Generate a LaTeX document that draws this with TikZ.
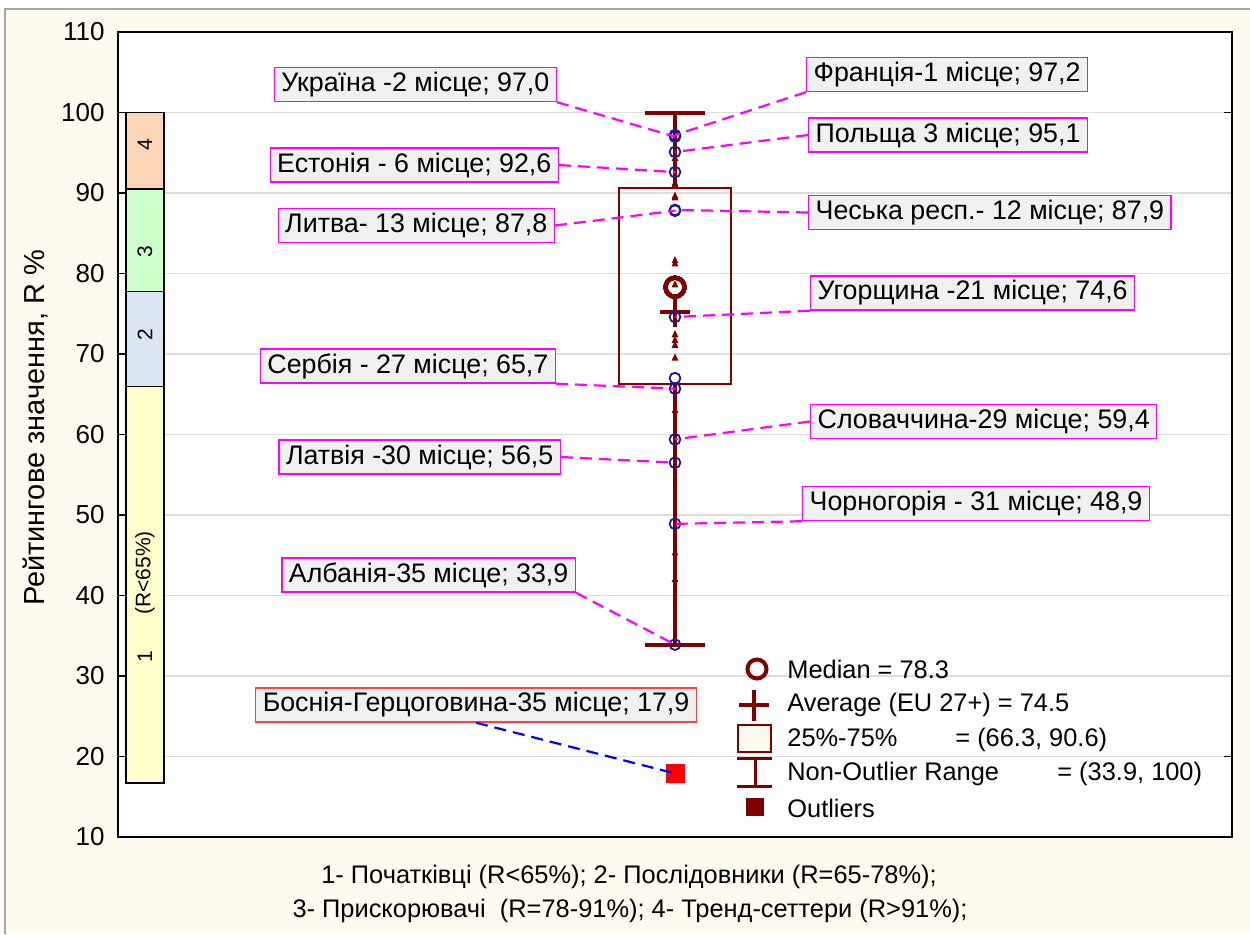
\documentclass[tikz,border=0pt]{standalone}
\usepackage{fontspec}
\setmainfont{Liberation Sans}
\definecolor{Maroon}{HTML}{800000}
\definecolor{Cream}{HTML}{FEFAF0}
\definecolor{Navy}{HTML}{1A1A8F}
\definecolor{LblFill}{HTML}{F0F0F0}
\definecolor{LblPink}{HTML}{FF00FF}
\definecolor{GridGray}{HTML}{DDDDDD}
\definecolor{BosRed}{HTML}{FF4040}
\definecolor{BosBlue}{HTML}{0000FF}
\definecolor{SegOne}{HTML}{FFFFCC}
\definecolor{SegTwo}{HTML}{DCE6F2}
\definecolor{SegThree}{HTML}{CCFFCC}
\definecolor{SegFour}{HTML}{FBD5B5}
\newcommand\RankTri[1]{%
    \fill[Maroon] (675,#1) ++(-1.7pt,-1.3pt) -- ++(3.4pt,0pt) -- ++(-1.7pt,3.6pt) -- cycle;
}
\newcommand\RankPoint[2]{%
    \coordinate (#1) at (675,#2);
    \draw[Navy, line width=0.9pt] (#1) circle[radius=2.7pt];
}

\begin{document}
\begin{tikzpicture}[x=0.5pt,y=-0.5pt,
    lbl/.style={draw=LblPink, fill=LblFill, line width=0.7pt, inner xsep=3.5pt, inner ysep=0pt,
        minimum height=17pt, font=\fontsize{13.4}{15}\selectfont},
    leader/.style={LblPink, line width=1.1pt, dash pattern=on 6pt off 3.5pt},
    tick/.style={anchor=east, inner sep=0pt, font=\fontsize{13}{15}\selectfont},
    legtext/.style={anchor=west, inner sep=0pt, font=\fontsize{12.7}{15}\selectfont},
    seglbl/.style={rotate=90, font=\fontsize{10.5}{12}\selectfont},
    note/.style={font=\fontsize{12.7}{15}\selectfont}]
    \useasboundingbox (0,0) rectangle (1250,934);
    \fill[Cream] (5,9) rectangle (1250,934);
    \draw[gray!70, line width=0.8pt] (5,934) -- (5,9) -- (1250,9);
    \fill[white] (118,32) rectangle (1232,837);
    \begin{scope}[shift={(0,917.5)}, y=4.025pt]
        \foreach \v in {20,30,...,100}
            \draw[GridGray, line width=0.6pt] (118,\v) -- (1232,\v);
        \foreach \v in {10,20,...,110} {
            \draw[line width=0.8pt] (118,\v) -- (126,\v);
            \node[tick] at (105,\v) {\v};
        }
        \draw[line width=0.8pt] (1224,100) -- (1232,100) (1224,20) -- (1232,20);
        \filldraw[fill=SegOne, line width=0.6pt] (126,16.7) rectangle (164,66.0);
        \filldraw[fill=SegTwo, line width=0.6pt] (126,66.0) rectangle (164,77.8);
        \filldraw[fill=SegThree, line width=0.6pt] (126,77.8) rectangle (164,90.5);
        \filldraw[fill=SegFour, line width=0.6pt] (126,90.5) rectangle (164,100);
        \node[seglbl] (SegFourLbl) at (145,96.0) {4};
        \node[seglbl] (SegThreeLbl) at (145,82.7) {3};
        \node[seglbl] (SegTwoLbl) at (145,72.4) {2};
        \node[seglbl] (SegOneRange) at (145,42.8) {(R<65\%)};
        \node[seglbl] (SegOneLbl) at (145,32.4) {1};
        \begin{scope}[color=Maroon]
            \draw[line width=2.3pt] (675,100) -- (675,90.6) (675,66.3) -- (675,33.9);
            \draw[line width=2pt] (645,100) -- (705,100) (645,33.9) -- (705,33.9);
            \draw[line width=1pt] (619,66.3) rectangle (731,90.6);
            \foreach \v in {94.3,91.2,91.0,89.6,89.4,81.6,81.2,78.6,72.4,71.7,71.1,69.5,63.0,45.3,42.0}
                \RankTri{\v}
            \draw[line width=2pt] (675,78.3) circle[radius=4.75pt];
            \draw[line width=2pt] (660,75.2) -- (690,75.2) (675,75.2) ++(0,-7.5pt) -- ++(0,15pt);
        \end{scope}
        \RankPoint{PtFra}{97.2}
        \RankPoint{PtUkr}{97.0}
        \RankPoint{PtPol}{95.1}
        \RankPoint{PtEst}{92.6}
        \RankPoint{PtCze}{87.9}
        \RankPoint{PtLit}{87.8}
        \RankPoint{PtHun}{74.6}
        \RankPoint{PtSixSeven}{67.0}
        \RankPoint{PtSer}{65.7}
        \RankPoint{PtSlo}{59.4}
        \RankPoint{PtLat}{56.5}
        \RankPoint{PtMon}{48.9}
        \RankPoint{PtAlb}{33.9}
        \coordinate (PtBos) at (675,17.9);
        \fill[red] (PtBos) ++(-4.75pt,-4.75pt) rectangle ++(9.5pt,9.5pt);
    \end{scope}
    \draw[line width=1.2pt] (118,32) rectangle (1232,837);
    \node[rotate=90, font=\fontsize{14.5}{17}\selectfont] (AxisTitle) at (36,428) {Рейтингове значення, R \%};
    \node[lbl, anchor=east] (LblUkr) at (557,84.5) {Україна -2 місце; 97,0};
    \node[lbl, anchor=west] (LblFra) at (806,74.5) {Франція-1 місце; 97,2};
    \node[lbl, anchor=west] (LblPol) at (808,135) {Польща 3 місце; 95,1};
    \node[lbl, anchor=east] (LblEst) at (559,165) {Естонія - 6 місце; 92,6};
    \node[lbl, anchor=east] (LblLit) at (555,225.5) {Литва- 13 місце; 87,8};
    \node[lbl, anchor=west] (LblCze) at (808,212.5) {Чеська респ.- 12 місце; 87,9};
    \node[lbl, anchor=west] (LblHun) at (810,293) {Угорщина -21 місце; 74,6};
    \node[lbl, anchor=east] (LblSer) at (556,366) {Сербія - 27 місце; 65,7};
    \node[lbl, anchor=west] (LblSlo) at (810,421.5) {Словаччина-29 місце; 59,4};
    \node[lbl, anchor=east] (LblLat) at (561,457) {Латвія -30 місце; 56,5};
    \node[lbl, anchor=west] (LblMon) at (802,503.5) {Чорногорія - 31 місце; 48,9};
    \node[lbl, anchor=east] (LblAlb) at (576,575) {Албанія-35 місце; 33,9};
    \node[lbl, anchor=east, draw=BosRed] (LblBos) at (697,705) {Боснія-Герцоговина-35 місце; 17,9};
    \draw[leader] (LblUkr.south east) -- (PtUkr);
    \draw[leader] (LblFra.south west) -- (PtFra);
    \draw[leader] (LblPol.west) -- (PtPol);
    \draw[leader] (LblEst.east) -- (PtEst);
    \draw[leader] (LblLit.east) -- (PtLit);
    \draw[leader] (LblCze.west) -- (PtCze);
    \draw[leader] (LblHun.south west) -- (PtHun);
    \draw[leader] (LblSer.south east) -- (PtSer);
    \draw[leader] (LblSlo.west) -- (PtSlo);
    \draw[leader] (LblLat.east) -- (PtLat);
    \draw[leader] (LblMon.south west) -- (PtMon);
    \draw[leader] (LblAlb.south east) -- (PtAlb);
    \draw[leader, BosBlue] (LblBos.south) -- (PtBos);
    \begin{scope}[color=Maroon]
        \draw[line width=2pt] (757,669) circle[radius=4.75pt];
        \draw[line width=2pt] (739,705) -- (769,705) (754,690) -- (754,721);
        \filldraw[fill=Cream, line width=1pt] (738,725) rectangle (771,752);
        \draw[line width=1.5pt] (737,758) -- (772,758) (737,786) -- (772,786) (755,758) -- (755,786);
        \fill (746,798) rectangle (764,816);
    \end{scope}
    \node[legtext] (LegMedian) at (787,669) {Median = 78.3};
    \node[legtext] (LegAverage) at (787,705) {Average (EU 27+) = 74.5};
    \node[legtext] (LegBox) at (787,740) {\makebox[84pt][l]{25\%-75\%}= (66.3, 90.6)};
    \node[legtext] (LegRange) at (787,774) {\makebox[135pt][l]{Non-Outlier Range}= (33.9, 100)};
    \node[legtext] (LegOutlier) at (787,808) {Outliers};
    \node[note] (NoteOne) at (629,877) {1- Початківці (R<65\%); 2- Послідовники (R=65-78\%);};
    \node[note] (NoteTwo) at (630,911) {3- Прискорювачі\ \ (R=78-91\%); 4- Тренд-сеттери (R>91\%);};
\end{tikzpicture}
\end{document}
